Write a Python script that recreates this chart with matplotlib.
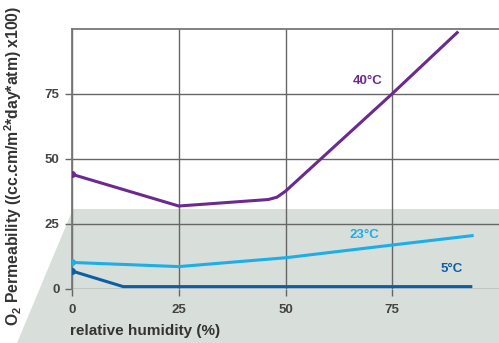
import matplotlib.pyplot as plt
from matplotlib.patches import Polygon

# Datos (humedad relativa %, permeabilidad O2 x100)
hr_40 = [0, 25, 46, 48, 50, 75, 90.2]
perm_40 = [44, 31.8, 34.3, 35.2, 37.5, 75, 98.5]

hr_23 = [0, 25, 50, 75, 93.7]
perm_23 = [10.1, 8.5, 11.9, 16.8, 20.4]

hr_5 = [0, 12, 93.4]
perm_5 = [6.8, 0.8, 0.8]

ticks = [0, 25, 50, 75]

plt.rcParams['font.family'] = ['Liberation Sans', 'DejaVu Sans']
plt.rcParams['font.weight'] = 'bold'
plt.rcParams['mathtext.fontset'] = 'custom'
plt.rcParams['mathtext.rm'] = 'Liberation Sans:bold'
plt.rcParams['mathtext.bf'] = 'Liberation Sans:bold'

fig = plt.figure(figsize=(4.99, 3.43), dpi=100)

# Fondo gris en perspectiva (coordenadas de figura)
W, H = 499.0, 343.0
pts = [(73 / W, 1 - 209 / H), (1.0, 1 - 209 / H), (1.0, 0.0), (17 / W, 0.0)]
fig.patches.append(Polygon(pts, closed=True, transform=fig.transFigure,
                           facecolor='#d8ded9', edgecolor='none', zorder=-5))

ax = fig.add_axes([72 / W, 54.3 / H, 1 - 72 / W, 260 / H])
ax.patch.set_alpha(0)

ax.plot(hr_40, perm_40, color='#6b2a8f', lw=2.2, solid_joinstyle='round', zorder=3)
ax.plot(hr_40[0], perm_40[0], 'o', color='#6b2a8f', ms=4, zorder=3)
ax.plot(hr_23, perm_23, color='#1aaeea', lw=2.2, zorder=3)
ax.plot(hr_23[0], perm_23[0], 'o', color='#1aaeea', ms=4, zorder=3)
ax.plot(hr_5, perm_5, color='#0b5fa5', lw=2.2, zorder=3)
ax.plot(hr_5[0], perm_5[0], 'o', color='#0b5fa5', ms=4, zorder=3)

ax.text(69.3, 80, '40°C', color='#6b2a8f', fontsize=9.5, fontweight='bold', ha='center', va='center')
ax.text(68.5, 20.5, '23°C', color='#1aaeea', fontsize=9.5, fontweight='bold', ha='center', va='center')
ax.text(88.8, 7.5, '5°C', color='#0b5fa5', fontsize=9.5, fontweight='bold', ha='center', va='center')

ax.set_xlim(0, 100)
ax.set_ylim(0, 100)
ax.set_xticks(ticks)
ax.set_yticks(ticks)
ax.grid(True, color='#666666', lw=1)
ax.set_axisbelow(True)
ax.tick_params(length=5, width=1, color='#666666', labelcolor='#444444',
               labelsize=9.5)
ax.tick_params(axis='x', pad=6)
ax.tick_params(axis='y', pad=4)
for lab in ax.get_xticklabels() + ax.get_yticklabels():
    lab.set_fontweight('bold')

for s in ['right', 'bottom']:
    ax.spines[s].set_visible(False)
for s in ['top', 'left']:
    ax.spines[s].set_color('#777777')
    ax.spines[s].set_linewidth(1.3)

ax.set_xlabel('relative humidity (%)', fontsize=11, fontweight='bold', color='#333333')
ax.xaxis.set_label_coords(-0.005, -0.135)
ax.xaxis.label.set_ha('left')
ax.set_ylabel('O$_2$ Permeability ((cc.cm/m$^2$*day*atm) x100)',
              fontsize=9.5, fontweight='bold', color='#333333')
ax.yaxis.set_label_coords(-0.113, 0.472)

# ajustar el tamano del titulo del eje y al largo del original (~322 px)
r = fig.canvas.get_renderer()
largo = ax.yaxis.label.get_window_extent(r).height
ax.yaxis.label.set_fontsize(9.5 * 322 / largo)

fig.savefig('out.png', dpi=100)
